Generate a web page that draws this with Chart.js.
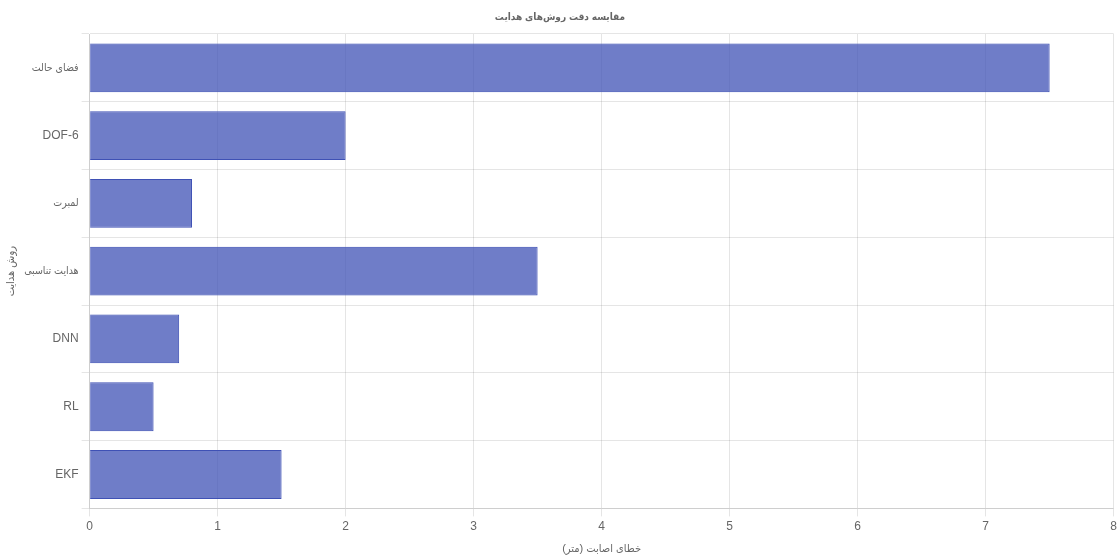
<!DOCTYPE html>
<html>
<head>
<meta charset="utf-8">
<script src="https://cdn.jsdelivr.net/npm/chart.js@4"></script>
<style>
  html, body { margin: 0; padding: 0; background: #fff; }
  #wrap { width: 1120px; height: 560px; }
</style>
</head>
<body>
<div id="wrap"><canvas id="accuracyChart"></canvas></div>
<script>
const methods = ['فضای حالت', 'DOF-6', 'لمبرت', 'هدایت تناسبی', 'DNN', 'RL', 'EKF'];
const missDistance = [7.5, 2, 0.8, 3.5, 0.7, 0.5, 1.5];

// Latin text in Arial-like face, Arabic falls back to the condensed face
Chart.defaults.font.family = "'Helvetica Neue', Helvetica, Arial, 'DejaVu Sans Condensed', sans-serif";

const isArabic = (s) => /[\u0600-\u06FF]/.test(s);

const ctx = document.getElementById('accuracyChart').getContext('2d');
new Chart(ctx, {
  type: 'bar',
  data: {
    labels: methods,
    datasets: [{
      label: 'خطای اصابت',
      data: missDistance,
      backgroundColor: 'rgba(63, 81, 181, 0.75)',
      borderColor: 'rgba(63, 81, 181, 1)',
      borderWidth: 1
    }]
  },
  options: {
    indexAxis: 'y',
    responsive: true,
    maintainAspectRatio: false,
    animation: false,
    plugins: {
      legend: { display: false },
      title: {
        display: true,
        text: 'مقایسه دقت روش‌های هدایت',
        font: { size: 10, weight: 'bold' },
        padding: { top: 11, bottom: 11 }
      }
    },
    scales: {
      x: {
        min: 0,
        max: 8,
        ticks: { stepSize: 1, font: { size: 12 } },
        title: {
          display: true,
          text: 'خطای اصابت (متر)',
          font: { size: 11 },
          padding: { top: 6, bottom: 4 }
        }
      },
      y: {
        ticks: {
          font: (c) => ({ size: isArabic(methods[c.index] || '') ? 10.5 : 12 })
        },
        title: { display: true, text: 'روش هدایت', font: { size: 11 } }
      }
    }
  }
});
</script>
</body>
</html>
